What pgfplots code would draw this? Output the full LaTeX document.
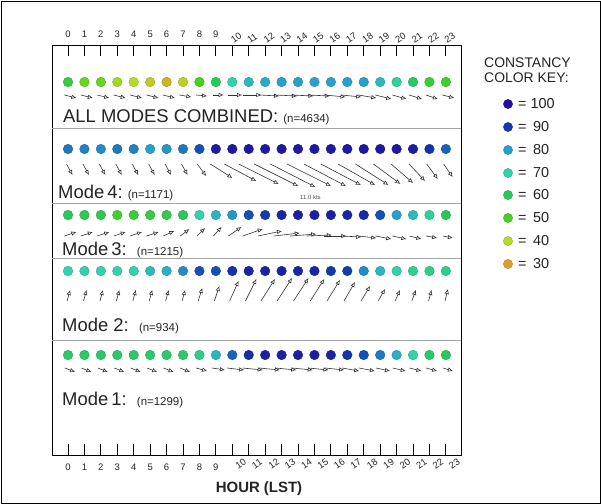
\documentclass[border=0pt]{standalone}
\usepackage{fontspec}
\setmainfont{Liberation Sans}
\usepackage{pgfplots}
\usepackage{pgfplotstable}
\pgfplotsset{compat=1.18}
\usetikzlibrary{arrows.meta}
\definecolor{txt}{RGB}{35,35,35}
\definecolor{sepc}{RGB}{165,165,165}
\definecolor{arrc}{RGB}{50,50,50}

% constancy (%) of each hourly dot
\pgfplotstableread{
h all m4 m3 m2 m1
0 55 84 60 70 62
1 47 83 58 70 62
2 47 82 58 70 62
3 42 84 52 70 62
4 40 83 54 70 62
5 37 80 56 75 62
6 33 81 57 77 62
7 38 84 60 82 62
8 50 88 70 88 66
9 60 97 76 88 76
10 70 98 81 92 86
11 75 98 88 95 93
12 78 98 90 96 96
13 80 98 95 96 96
14 80 98 96 95 96
15 80 98 96 95 96
16 80 98 96 91 95
17 80 98 95 90 92
18 80 98 94 82 88
19 75 98 88 76 84
20 68 98 80 70 77
21 62 97 75 67 70
22 55 92 68 66 62
23 53 86 60 66 60
}\dotstab

% wind vectors (screen px: dx right, dy down)
\pgfplotstableread{
h dx dy
0 12 3
1 12 3
2 12 3
3 12 3
4 12 3
5 12 3
6 12 3
7 12 2
8 11 1
9 11 0
10 14 0
11 18 0
12 20 1
13 22 1
14 22 1
15 22 1
16 21 2
17 20 2
18 18 3
19 16 4
20 14 4
21 13 4
22 12 4
23 12 3
}\arrAll
\pgfplotstableread{
h dx dy
0 6 11
1 6 11
2 6 11
3 6 11
4 6 11
5 6 11
6 6 11
7 6 11
8 9 12
9 22 14
10 32 17
11 40 20
12 44 22
13 45 23
14 44 22
15 42 22
16 40 21
17 37 21
18 33 21
19 27 20
20 22 19
21 16 17
22 11 15
23 9 13
}\arrFour
\pgfplotstableread{
h dx dy
0 12 -4
1 12 -4
2 12 -4
3 12 -4
4 12 -4
5 12 -4
6 11 -5
7 9 -7
8 8 -8
9 8 -9
10 13 -9
11 20 -7
12 24 -5
13 26 -3
14 26 -2
15 25 -1
16 22 0
17 20 1
18 18 2
19 16 3
20 14 3
21 12 3
22 11 2
23 10 2
}\arrThree
\pgfplotstableread{
h dx dy
0 3 -11
1 3 -11
2 3 -11
3 3 -11
4 3 -11
5 3 -11
6 3 -11
7 3 -11
8 4 -13
9 5 -15
10 9 -20
11 11 -22
12 14 -22
13 15 -23
14 15 -23
15 14 -22
16 13 -21
17 11 -19
18 9 -15
19 7 -12
20 5 -11
21 4 -11
22 3 -11
23 3 -12
}\arrTwo
\pgfplotstableread{
h dx dy
0 10 4
1 10 4
2 10 4
3 10 4
4 10 4
5 10 4
6 10 4
7 10 4
8 11 3
9 13 2
10 17 2
11 20 2
12 21 2
13 21 2
14 21 2
15 20 2
16 19 2
17 17 3
18 16 3
19 14 3
20 13 3
21 12 3
22 11 3
23 10 3
}\arrOne

\pgfplotstableread{
x y c
508 104 100
508 127 90
508 150 80
508 173 70
508 195 60
508 218 50
508 241 40
508 264 30
}\legtab

\pgfplotsset{
  constmap/.style={
    colormap={constmap}{rgb255=(220,160,40) rgb255=(180,220,40) rgb255=(70,210,30) rgb255=(40,200,90) rgb255=(50,210,170) rgb255=(40,160,205) rgb255=(15,60,175) rgb255=(35,15,160)},
    point meta min=30, point meta max=100},
  dotrow/.style={scatter, only marks, mark=*, mark size=4.8bp, scatter src=explicit},
  arrrow/.style={draw=arrc, line width=0.6pt, -{Latex[open,length=5bp,width=4.5bp]}},
  panel/.style={
    at={(0,0)}, anchor=south west,
    scale only axis, width=409bp, height=410bp,
    xmin=-0.974, xmax=23.92, ymin=45, ymax=455, y dir=reverse,
  },
  labelaxis/.style={
    panel,
    axis y line=none, axis line style={draw=none},
    xtick={0,...,9}, extra x ticks={10,...,23},
    major tick length=0pt,
    xticklabel style={font=\fontsize{9.5}{11}\selectfont, text=txt},
    /pgf/number format/assume math mode=true,
  },
}
\newcommand{\hx}{16.43}
\newcommand{\bigf}{\fontsize{18.5}{20}\selectfont}
\newcommand{\smf}{\fontsize{11.5}{13}\selectfont}
\newcommand{\legf}{\fontsize{14.5}{16}\selectfont}

\begin{document}
\begin{tikzpicture}
% main panel
\begin{axis}[
  panel,
  axis line style={black, line width=1pt},
  xtick={0,...,23}, xticklabels={}, ytick=\empty,
  xtick pos=both,
  tick align=inside, major tick length=11bp,
  tick style={black, line width=0.9pt},
  clip=false, constmap,
]
\draw[sepc, line width=0.9pt] (axis cs:-0.974,128) -- (axis cs:23.92,128);
\draw[sepc, line width=0.9pt] (axis cs:-0.974,203) -- (axis cs:23.92,203);
\draw[sepc, line width=0.9pt] (axis cs:-0.974,258) -- (axis cs:23.92,258);
\draw[sepc, line width=0.9pt] (axis cs:-0.974,340) -- (axis cs:23.92,340);

\addplot[dotrow] table[x=h, y expr=82, meta=all] \dotstab;
\addplot[dotrow] table[x=h, y expr=149, meta=m4] \dotstab;
\addplot[dotrow] table[x=h, y expr=215, meta=m3] \dotstab;
\addplot[dotrow] table[x=h, y expr=271, meta=m2] \dotstab;
\addplot[dotrow] table[x=h, y expr=355, meta=m1] \dotstab;

\addplot[arrrow, quiver={u=\thisrow{dx}/\hx, v=\thisrow{dy}}] table[x expr=\thisrow{h}-0.3*\thisrow{dx}/\hx, y expr=95] \arrAll;
\addplot[arrrow, quiver={u=\thisrow{dx}/\hx, v=\thisrow{dy}}] table[x expr=\thisrow{h}-0.25*\thisrow{dx}/\hx, y expr=164] \arrFour;
\addplot[arrrow, quiver={u=\thisrow{dx}/\hx, v=\thisrow{dy}}] table[x expr=\thisrow{h}-0.3*\thisrow{dx}/\hx, y expr=236] \arrThree;
\addplot[arrrow, quiver={u=\thisrow{dx}/\hx, v=\thisrow{dy}}] table[x expr=\thisrow{h}-0.3*\thisrow{dx}/\hx, y expr=301] \arrTwo;
\addplot[arrrow, quiver={u=\thisrow{dx}/\hx, v=\thisrow{dy}}] table[x expr=\thisrow{h}-0.3*\thisrow{dx}/\hx, y expr=368] \arrOne;
\end{axis}
% bottom tick labels
\begin{axis}[
  labelaxis, axis x line*=bottom, xticklabel pos=lower,
  xticklabel style={yshift=-5bp},
  extra x tick style={xticklabel style={rotate=35, anchor=west, xshift=-4bp, yshift=-8bp}},
]
\addplot[draw=none] coordinates {(0,100)};
\end{axis}
% top tick labels
\begin{axis}[
  labelaxis, axis x line*=top, xticklabel pos=upper,
  xticklabel style={yshift=4bp},
  extra x tick style={xticklabel style={rotate=35, anchor=west, xshift=-4bp, yshift=0bp}},
]
\addplot[draw=none] coordinates {(0,100)};
\end{axis}
% overlay in pixel coordinates
\begin{axis}[
  at={(-52bp,-49bp)}, anchor=south west,
  scale only axis, width=601bp, height=504bp,
  xmin=0, xmax=601, ymin=0, ymax=504, y dir=reverse,
  hide axis, clip=false, constmap,
]
\addplot[dotrow, mark size=4.6bp] table[x=x, y=y, meta=c] \legtab;
\node[anchor=base west, text=txt, inner sep=0] at (axis cs:63,122) {\bigf ALL MODES COMBINED:\ \smf(n=4634)};
\node[anchor=base west, text=txt, inner sep=0] at (axis cs:58,198) {\bigf Mode\,4:\ \smf(n=1171)};
\node[anchor=base west, text=txt, inner sep=0] at (axis cs:62,255) {\bigf Mode\,3:\ \ \smf(n=1215)};
\node[anchor=base west, text=txt, inner sep=0] at (axis cs:62,331) {\bigf Mode 2:\ \ \smf(n=934)};
\node[anchor=base west, text=txt, inner sep=0] at (axis cs:62,405) {\bigf Mode\,1:\ \ \smf(n=1299)};
\node[anchor=base west, text=black!70, inner sep=0] at (axis cs:300,199) {\fontsize{6}{7}\selectfont 11.0 kts};
\node[anchor=base west, text=txt, inner sep=0] at (axis cs:484,67) {\fontsize{14}{16}\selectfont CONSTANCY};
\node[anchor=base west, text=txt, inner sep=0] at (axis cs:484,82) {\fontsize{14}{16}\selectfont COLOR KEY:};
\node[anchor=west, text=txt, inner sep=0] at (axis cs:518,104) {\legf = 100};
\node[anchor=west, text=txt, inner sep=0] at (axis cs:518,127) {\legf =\hspace{0.45em}90};
\node[anchor=west, text=txt, inner sep=0] at (axis cs:518,150) {\legf =\hspace{0.45em}80};
\node[anchor=west, text=txt, inner sep=0] at (axis cs:518,173) {\legf =\hspace{0.45em}70};
\node[anchor=west, text=txt, inner sep=0] at (axis cs:518,195) {\legf =\hspace{0.45em}60};
\node[anchor=west, text=txt, inner sep=0] at (axis cs:518,218) {\legf =\hspace{0.45em}50};
\node[anchor=west, text=txt, inner sep=0] at (axis cs:518,241) {\legf =\hspace{0.45em}40};
\node[anchor=west, text=txt, inner sep=0] at (axis cs:518,264) {\legf =\hspace{0.45em}30};
\node[anchor=base, text=txt, inner sep=0] at (axis cs:259,492) {\fontsize{15}{17}\selectfont\bfseries HOUR (LST)};
\draw[black, line width=0.8pt] (axis cs:1,1) rectangle (axis cs:600,503);
\end{axis}
\pgfresetboundingbox
\path[use as bounding box] (-52bp,-49bp) rectangle (549bp,455bp);
\end{tikzpicture}
\end{document}
